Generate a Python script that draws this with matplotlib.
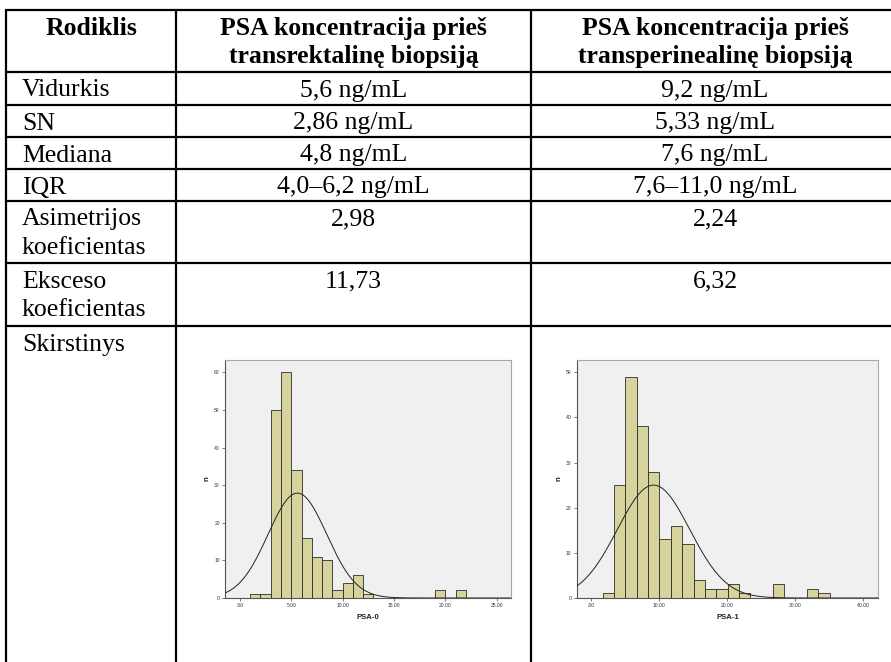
import numpy as np
import matplotlib
matplotlib.use("Agg")
import matplotlib.pyplot as plt

# table content
header = ["Rodiklis",
          "PSA koncentracija prieš\ntransrektalinę biopsiją",
          "PSA koncentracija prieš\ntransperinealinę biopsiją"]
row_labels = ["Vidurkis", "SN", "Mediana", "IQR",
              "Asimetrijos\nkoeficientas", "Eksceso\nkoeficientas", "Skirstinys"]
col_trans = ["5,6 ng/mL", "2,86 ng/mL", "4,8 ng/mL", "4,0–6,2 ng/mL", "2,98", "11,73", ""]
col_perin = ["9,2 ng/mL", "5,33 ng/mL", "7,6 ng/mL", "7,6–11,0 ng/mL", "2,24", "6,32", ""]

# PSA-0 histogram (bin width 1)
psa0_bins = [1, 2, 3, 4, 5, 6, 7, 8, 9, 10, 11, 12, 19, 21]
psa0_counts = [1, 1, 50, 60, 34, 16, 11, 10, 2, 4, 6, 1, 2, 2]
psa0_width = 1.0
psa0_mean, psa0_sd, psa0_n = 5.6, 2.86, 200

# PSA-1 histogram (bin width 1.67)
psa1_bins = [1.72, 3.39, 5.06, 6.73, 8.40, 10.07, 11.74, 13.41, 15.08,
             16.75, 18.42, 20.09, 21.76, 26.77, 31.78, 33.45]
psa1_counts = [1, 25, 49, 38, 28, 13, 16, 12, 4, 2, 2, 3, 1, 3, 2, 1]
psa1_width = 1.67
psa1_mean, psa1_sd, psa1_n = 9.2, 5.33, 200

W, H = 891, 662
fig = plt.figure(figsize=(W / 100, H / 100), dpi=100)
tab = fig.add_axes([0, 0, 1, 1])
tab.set_xlim(0, W)
tab.set_ylim(H, 0)
tab.axis("off")

serif = "Liberation Serif"
fs = 18.5
lw = 1.6
col_x = [6, 176, 531]
col_c = [91, 353.5, 715]
row_y = [10, 72, 105, 137, 169, 201, 263, 326]
line_gap = 28

for x in col_x:
    tab.plot([x, x], [row_y[0] - 1, H], color="black", lw=lw, solid_capstyle="butt")
for y in row_y:
    tab.plot([col_x[0] - 1, W], [y, y], color="black", lw=lw, solid_capstyle="butt")

# header
for c, txt in zip(col_c, header):
    for i, part in enumerate(txt.split("\n")):
        tab.text(c, row_y[0] + 25 + i * line_gap, part, ha="center", va="baseline",
                 fontsize=fs, fontweight="bold", family=serif)

# body rows
for r, (lab, v1, v2) in enumerate(zip(row_labels, col_trans, col_perin)):
    base = row_y[r + 1] + 24.5
    for i, part in enumerate(lab.split("\n")):
        tab.text(22, base + i * line_gap, part, ha="left", va="baseline",
                 fontsize=fs, family=serif)
    tab.text(col_c[1], base, v1, ha="center", va="baseline", fontsize=fs, family=serif)
    tab.text(col_c[2], base, v2, ha="center", va="baseline", fontsize=fs, family=serif)


def histogram(rect, bins, counts, width, mean, sd, n, xlim, ylim,
              xticks, xlabels, yticks, xname):
    ax = fig.add_axes(rect)
    ax.set_facecolor("#f0f0f0")
    ax.bar(bins, counts, width=width, align="edge", color="#d6d39c",
           edgecolor="#2b2b2b", linewidth=0.6, zorder=2)
    xs = np.linspace(xlim[0], xlim[1], 400)
    ys = n * width * np.exp(-0.5 * ((xs - mean) / sd) ** 2) / (sd * np.sqrt(2 * np.pi))
    ax.plot(xs, ys, color="#222222", lw=0.7, zorder=3)
    ax.set_xlim(*xlim)
    ax.set_ylim(*ylim)
    ax.set_xticks(xticks)
    ax.set_xticklabels(xlabels)
    ax.set_yticks(yticks)
    ax.set_yticklabels([str(v) for v in yticks])
    ax.tick_params(length=2.2, width=0.5, pad=1.5, labelsize=3.6,
                   colors="#444444", labelcolor="#333333")
    for s in ax.spines.values():
        s.set_color("#a8a8a8")
        s.set_linewidth(0.8)
    ax.spines["bottom"].set_color("#555555")
    ax.spines["left"].set_color("#555555")
    for t in ax.get_xticklabels() + ax.get_yticklabels():
        t.set_family("Liberation Sans")
    ax.set_xlabel(xname, fontsize=5.6, fontweight="bold", family="Liberation Sans",
                  labelpad=4, color="#222222")
    ax.set_ylabel("n", fontsize=5.6, fontweight="bold", family="Liberation Sans",
                  labelpad=2.5, color="#222222")
    return ax


bottom = (H - 598) / H
height = 238 / H
histogram([225 / W, bottom, 286 / W, height], psa0_bins, psa0_counts, psa0_width,
          psa0_mean, psa0_sd, psa0_n, (-1.45, 26.4), (0, 63.3),
          [0, 5, 10, 15, 20, 25], [".00", "5.00", "10.00", "15.00", "20.00", "25.00"],
          [0, 10, 20, 30, 40, 50, 60], "PSA-0")
histogram([576.7 / W, bottom, 301.6 / W, height], psa1_bins, psa1_counts, psa1_width,
          psa1_mean, psa1_sd, psa1_n, (-2.1, 42.25), (0, 52.7),
          [0, 10, 20, 30, 40], [".00", "10.00", "20.00", "30.00", "40.00"],
          [0, 10, 20, 30, 40, 50], "PSA-1")

fig.savefig("out.png", dpi=100)
